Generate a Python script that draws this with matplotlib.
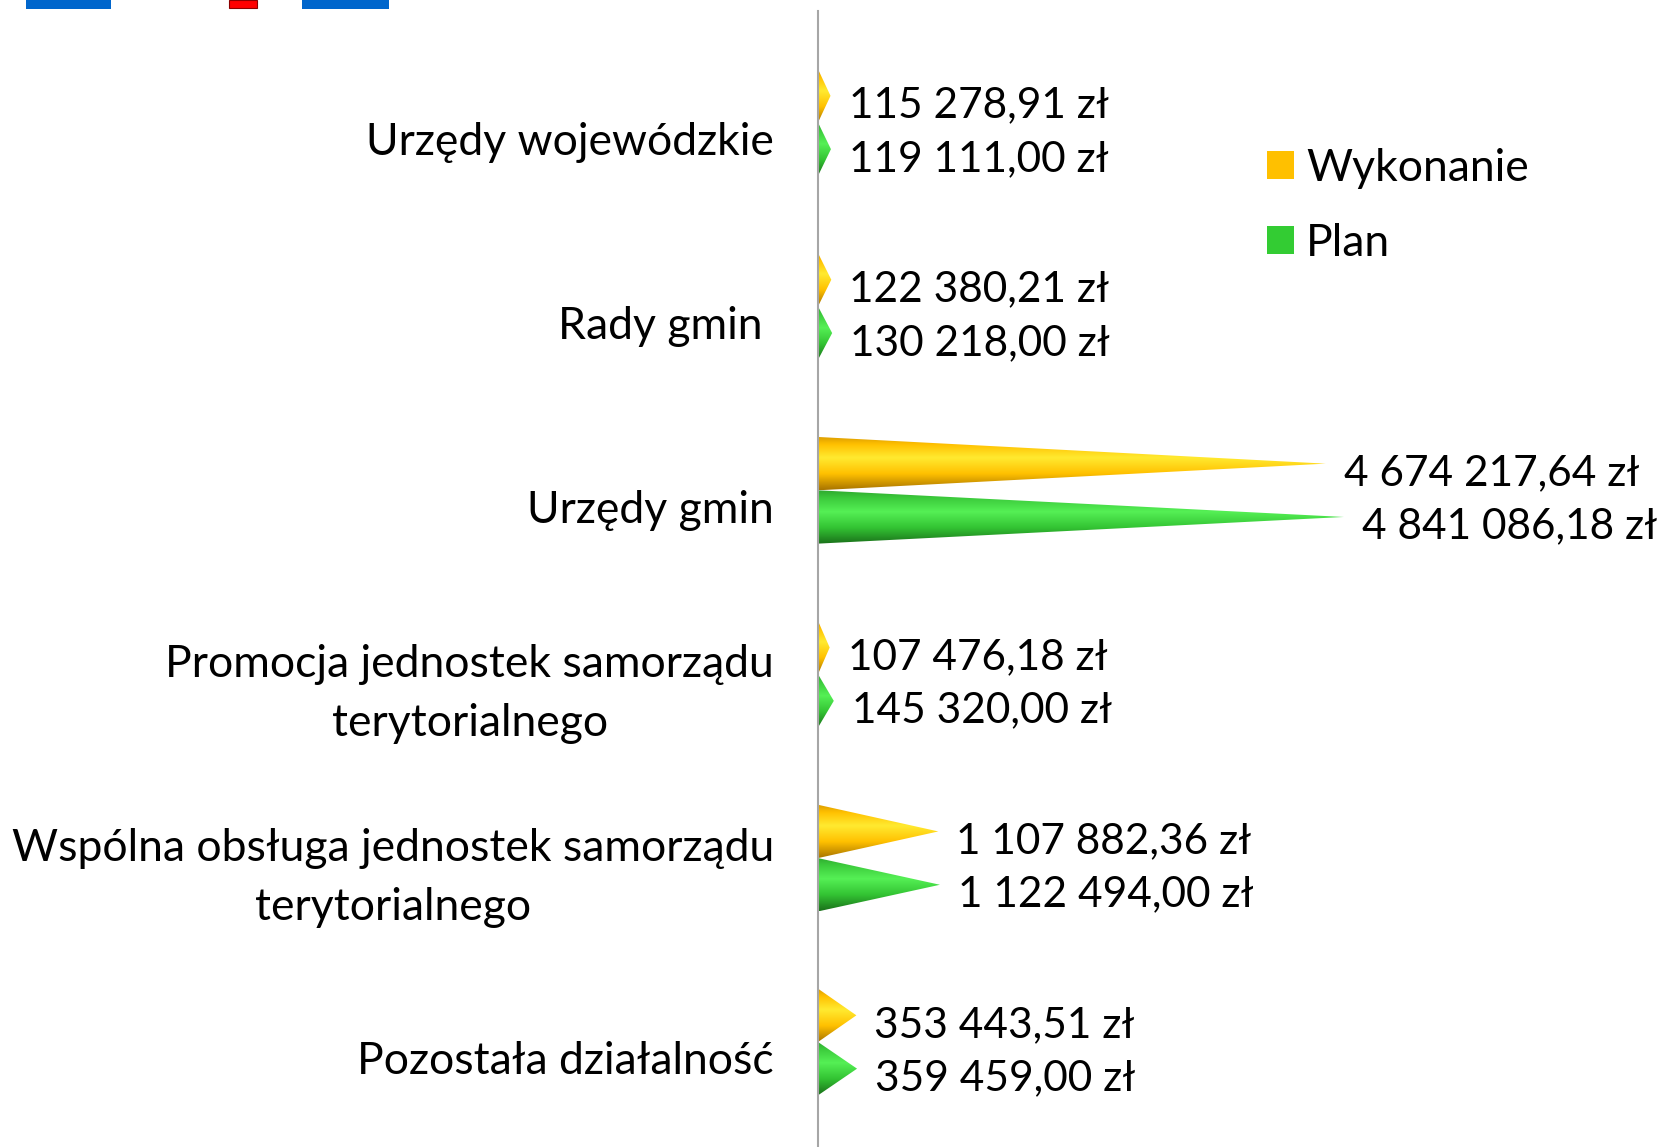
import numpy as np
import matplotlib
matplotlib.use('Agg')
import matplotlib.pyplot as plt
from matplotlib.patches import Polygon, Rectangle, Patch
from matplotlib.colors import LinearSegmentedColormap
import matplotlib.transforms as mtransforms

plt.rcParams['font.family'] = ['Lato', 'DejaVu Sans']

# dane
categories = ['Urzędy wojewódzkie', 'Rady gmin ', 'Urzędy gmin',
              'Promocja jednostek samorządu\nterytorialnego',
              'Wspólna obsługa jednostek samorządu\nterytorialnego',
              'Pozostała działalność']
wykonanie = [115278.91, 122380.21, 4674217.64, 107476.18, 1107882.36, 353443.51]
plan = [119111.00, 130218.00, 4841086.18, 145320.00, 1122494.00, 359459.00]
series_names = ['Wykonanie', 'Plan']

# cieniowanie stożków (od góry do dołu)
yellow_cmap = LinearSegmentedColormap.from_list(
    'y', [(0, '#D99A00'), (0.15, '#FFC000'), (0.4, '#FFEA30'),
          (0.7, '#FFC000'), (1, '#A87400')])
green_cmap = LinearSegmentedColormap.from_list(
    'g', [(0, '#2EA82E'), (0.15, '#3CCB3C'), (0.4, '#55F055'),
          (0.7, '#33C333'), (1, '#1A701A')])


def fmt(v):
    s = f"{v:,.2f}"
    return s.replace(',', ' ').replace('.', ',') + ' zł'


fig = plt.figure(figsize=(16.63, 11.47), dpi=100)
ax = fig.add_axes([818 / 1663, 0.0, 1 - 818 / 1663, 1 - 10.6 / 1147])

xmax = 7.78e6
ymin, ymax = 5.571, -0.6085

h = 0.29
grad = np.linspace(0, 1, 256).reshape(-1, 1)

for vals, off, cmap in [(wykonanie, -0.145, yellow_cmap), (plan, 0.145, green_cmap)]:
    for i, v in enumerate(vals):
        yc = i + off
        tri = Polygon([(0, yc - h / 2), (v, yc), (0, yc + h / 2)],
                      closed=True, facecolor='none', edgecolor='none')
        ax.add_patch(tri)
        im = ax.imshow(grad, cmap=cmap, aspect='auto',
                       extent=(0, v, yc + h / 2, yc - h / 2), origin='upper',
                       interpolation='bilinear', zorder=2)
        im.set_clip_path(tri)
        ax.annotate(fmt(v), (v, yc), xytext=(13, -7), textcoords='offset points',
                    ha='left', va='center', fontsize=30.5, clip_on=False,
                    annotation_clip=False)

# opisy kategorii
lab_tr = ax.get_yaxis_transform() + mtransforms.ScaledTranslation(-44 / 100, -20 / 100, fig.dpi_scale_trans)
for i, c in enumerate(categories):
    ax.text(0, i, c, transform=lab_tr, ha='right', va='center',
            multialignment='center', fontsize=32, linespacing=1.55)

ax.set_xlim(0, xmax)
ax.set_ylim(ymin, ymax)
for s in ['top', 'right', 'bottom']:
    ax.spines[s].set_visible(False)
ax.spines['left'].set_color('#A6A6A6')
ax.spines['left'].set_linewidth(1.5)
ax.set_xticks([])
ax.set_yticks([])

handles = [Patch(facecolor='#FFC000', edgecolor='none'),
           Patch(facecolor='#33CC33', edgecolor='none')]
fig.legend(handles, series_names, loc='upper left',
           bbox_to_anchor=(1267 / 1663, 1 - 148 / 1147), frameon=False,
           fontsize=32, handlelength=0.6, handleheight=0.6,
           handletextpad=0.28, labelspacing=0.76, borderpad=0, borderaxespad=0)

# elementy ozdobne u góry
fig.patches.append(Rectangle((26 / 1663, 1 - 9 / 1147), 85 / 1663, 9 / 1147,
                             transform=fig.transFigure, facecolor='#0066CC', edgecolor='none'))
fig.patches.append(Rectangle((229 / 1663, 1 - 8 / 1147), 28 / 1663, 8 / 1147,
                             transform=fig.transFigure, facecolor='#FF0000', edgecolor='#8B0000', linewidth=0.8))
fig.patches.append(Rectangle((302 / 1663, 1 - 9 / 1147), 87 / 1663, 9 / 1147,
                             transform=fig.transFigure, facecolor='#0066CC', edgecolor='none'))

fig.savefig('out.png', dpi=100)
